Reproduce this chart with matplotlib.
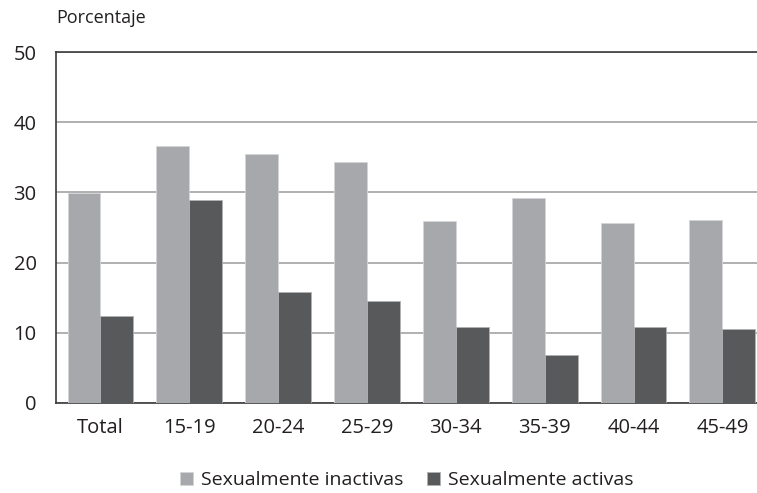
import numpy as np
import matplotlib.pyplot as plt

grupos = ['Total', '15-19', '20-24', '25-29', '30-34', '35-39', '40-44', '45-49']
inactivas = [29.9, 36.6, 35.5, 34.3, 25.9, 29.2, 25.6, 26.1]
activas = [12.4, 28.9, 15.8, 14.5, 10.8, 6.8, 10.8, 10.5]
yticks = [0, 10, 20, 30, 40, 50]

plt.rcParams['font.family'] = ['Open Sans', 'DejaVu Sans']

fig = plt.figure(figsize=(7.57, 4.93), dpi=100)
ax = fig.add_axes([56 / 757, 90 / 493, 701 / 757, 351 / 493])

x = np.arange(len(grupos))
w = 0.37
ax.bar(x - w / 2, inactivas, w, color='#a7a8ab', edgecolor='#d4d5d7', linewidth=0.6,
       label='Sexualmente inactivas', zorder=3)
ax.bar(x + w / 2, activas, w, color='#58595b', edgecolor='#b0b1b3', linewidth=0.6,
       label='Sexualmente activas', zorder=3)

ax.set_xlim(-0.5, 7.39)
ax.set_ylim(0, 50)
ax.set_yticks(yticks)
ax.set_xticks(x)
ax.set_xticklabels(grupos)
ax.tick_params(axis='both', length=0, labelsize=14.5, colors='#231f20')
ax.tick_params(axis='y', pad=14)
ax.tick_params(axis='x', pad=11)
ax.grid(axis='y', color='#a3a3a3', linewidth=1.2, zorder=0)

for s in ['left', 'bottom', 'top']:
    ax.spines[s].set_color('#3a3a3a')
    ax.spines[s].set_linewidth(1.2)
ax.spines['right'].set_visible(False)

fig.text(56 / 757, 1 - 18 / 493, 'Porcentaje', fontsize=13, color='#231f20', va='center')

ax.legend(loc='center', bbox_to_anchor=(407 / 757, 13 / 493), bbox_transform=fig.transFigure,
          ncol=2, frameon=False, fontsize=14, handlelength=0.65, handleheight=0.65,
          handletextpad=0.45, columnspacing=1.2, labelcolor='#231f20')

fig.savefig('out.png', dpi=100)
